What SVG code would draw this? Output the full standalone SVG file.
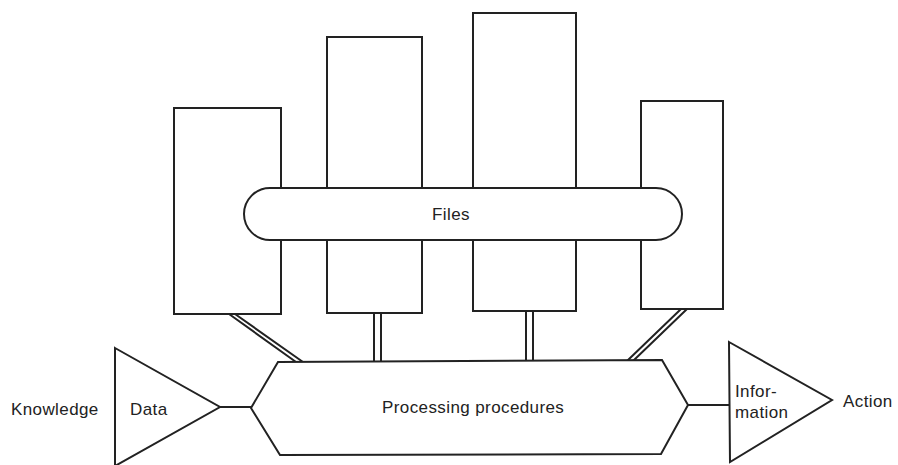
<svg xmlns="http://www.w3.org/2000/svg" width="898" height="465" viewBox="0 0 898 465">
<style>
.s{fill:none;stroke:#222;stroke-width:2;stroke-linejoin:miter}
.w{fill:#fff;stroke:#222;stroke-width:2}
.t{font-family:"Liberation Sans",Arial,sans-serif;font-size:17px;fill:#222;letter-spacing:0.4px}
</style>
<rect width="898" height="465" fill="#fff"/>
<g id="file1"><rect class="w" x="174" y="108" width="107" height="206"/></g>
<g id="file2"><rect class="w" x="327" y="37" width="95" height="276"/></g>
<g id="file3"><rect class="w" x="473" y="13" width="103" height="298"/></g>
<g id="file4"><rect class="w" x="641" y="101" width="82" height="208"/></g>
<g id="files"><rect class="w" x="244" y="188" width="438" height="52" rx="26" ry="26"/><text class="t" x="432" y="220">Files</text></g>
<g id="connectors">
<path class="s" d="M229,314 L296,362 M235,314 L303,362"/>
<path class="s" d="M374,313 V362 M381,313 V362"/>
<path class="s" d="M526,311 V362 M533,311 V362"/>
<path class="s" d="M681,309 L627,361 M687,309 L633,361"/>
<path class="s" d="M220,407 H251"/>
<path class="s" d="M688,405 H729"/>
</g>
<g id="processing"><path class="w" d="M278,362 L662,360 L688,405 L661,454 L280,455 L251,408 Z"/><text class="t" x="382" y="413">Processing procedures</text></g>
<g id="data"><path class="w" d="M115,348 L220,407 L115,466 Z"/><text class="t" x="130" y="415">Data</text></g>
<g id="information"><path class="w" d="M729,342 L832,400 L730,462 Z"/><text class="t" x="735" y="397">Infor-</text><text class="t" x="735" y="418">mation</text></g>
<text class="t" x="11" y="415" letter-spacing="0.8">Knowledge</text>
<text class="t" x="843" y="407">Action</text>
</svg>
